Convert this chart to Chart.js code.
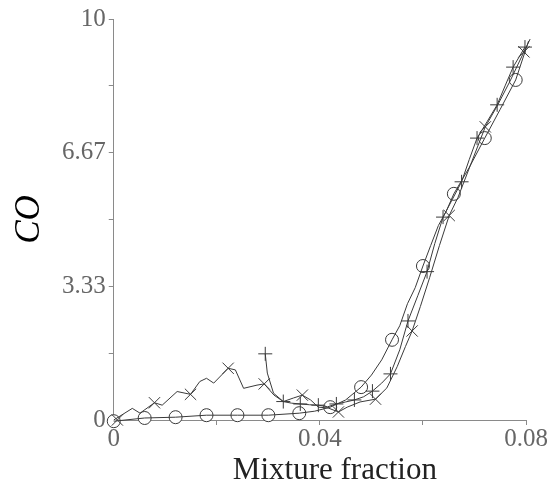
<!DOCTYPE html>
<html lang="en">
<head>
    <meta charset="UTF-8">
    <title>CO vs mixture fraction</title>
    <script src="https://cdn.jsdelivr.net/npm/chart.js"></script>
    <style>
        html, body { margin: 0; padding: 0; background: #fff; }
        #box { width: 551px; height: 496px; }
    </style>
</head>
<body>
    <div id="box"><canvas id="chart"></canvas></div>

    <script>
        // axis ticks (minor ticks get an empty label)
        const xTickValues = [0, 0.02, 0.04, 0.06, 0.08];
        const xTickLabels = ['0', '', '0.04', '', '0.08'];
        const yTickValues = [0, 10 / 6, 10 / 3, 5, 20 / 3, 50 / 6, 10];
        const yTickLabels = ['0', '', '3.33', '', '6.67', '', '10'];
        const xTitle = 'Mixture fraction';

        // circle series: line points and marker points
        const circX = [0, 0.006, 0.012, 0.018, 0.024, 0.030, 0.036, 0.039, 0.042, 0.045, 0.048, 0.050, 0.052, 0.054,
            0.0555, 0.057, 0.0585, 0.060, 0.0615, 0.063, 0.0645, 0.066, 0.069, 0.072, 0.075, 0.078, 0.0805];
        const circY = [-0.03, 0.05, 0.07, 0.12, 0.12, 0.12, 0.17, 0.22, 0.32, 0.50, 0.82, 1.12, 1.50, 2.0,
            2.35, 2.90, 3.30, 3.84, 4.35, 4.85, 5.20, 5.64, 6.30, 7.03, 7.75, 8.48, 9.45];
        const circMarkX = [0, 0.006, 0.012, 0.018, 0.024, 0.030, 0.036, 0.042, 0.048, 0.054, 0.060, 0.066, 0.072, 0.078];
        const circMarkY = [-0.03, 0.05, 0.07, 0.12, 0.12, 0.12, 0.17, 0.32, 0.82, 2.0, 3.84, 5.64, 7.03, 8.48];

        // x-mark series
        const crossX = [0, 0.0036, 0.0051, 0.0079, 0.0094, 0.0123, 0.0149, 0.0167, 0.0180, 0.0194, 0.0222, 0.0236,
            0.0252, 0.0278, 0.0292, 0.0311, 0.0329, 0.0349, 0.0366, 0.0382, 0.0397, 0.0416, 0.0436, 0.0453, 0.0478,
            0.0508, 0.0530, 0.0550, 0.0566, 0.0579, 0.0595, 0.0613, 0.0632, 0.0651, 0.0668, 0.0695, 0.0721, 0.0744,
            0.0769, 0.0796, 0.0808];
        const crossY = [0, 0.29, 0.17, 0.43, 0.37, 0.71, 0.64, 0.96, 1.04, 0.92, 1.29, 1.25,
            0.79, 0.87, 0.90, 0.62, 0.46, 0.55, 0.62, 0.50, 0.32, 0.30, 0.20, 0.32, 0.45,
            0.52, 0.80, 1.33, 1.83, 2.22, 2.83, 3.55, 4.35, 5.10, 5.55, 6.45, 7.31, 7.83,
            8.45, 9.18, 9.50];
        const crossMarkX = [0.0007, 0.0079, 0.0149, 0.0222, 0.0292, 0.0366, 0.0436, 0.0508, 0.0579, 0.0651, 0.0721, 0.0796];
        const crossMarkY = [0.0, 0.43, 0.64, 1.29, 0.90, 0.62, 0.20, 0.52, 2.22, 5.10, 7.31, 9.18];

        // plus series
        const plusX = [0.0294, 0.0298, 0.0310, 0.0329, 0.0345, 0.0362, 0.0380, 0.0397, 0.0415, 0.0432, 0.0450, 0.0467,
            0.0485, 0.0502, 0.0520, 0.0537, 0.0555, 0.0571, 0.0590, 0.0608, 0.0623, 0.0639, 0.0657, 0.0675, 0.0690,
            0.0705, 0.0725, 0.0744, 0.0760, 0.0775, 0.0798];
        const plusY = [1.65, 1.17, 0.67, 0.46, 0.42, 0.40, 0.38, 0.37, 0.33, 0.40, 0.45, 0.50,
            0.58, 0.72, 0.92, 1.15, 1.75, 2.47, 3.10, 3.70, 4.40, 5.06, 5.50, 5.94, 6.50,
            7.03, 7.45, 7.86, 8.35, 8.80, 9.30];
        const plusMarkX = [0.0294, 0.0329, 0.0362, 0.0397, 0.0432, 0.0467, 0.0502, 0.0537, 0.0571, 0.0608, 0.0639,
            0.0675, 0.0705, 0.0744, 0.0775, 0.0798];
        const plusMarkY = [1.65, 0.46, 0.40, 0.37, 0.40, 0.50, 0.72, 1.15, 2.47, 3.70, 5.06,
            5.94, 7.03, 7.86, 8.80, 9.30];

        const pts = (xs, ys) => xs.map((x, i) => ({ x: x, y: ys[i] }));
        const lineColor = '#3a3a3a';
        const axisColor = '#8a8a8a';
        const serif = "'Liberation Serif', 'DejaVu Serif', serif";

        function lineSet(xs, ys) {
            return {
                data: pts(xs, ys), showLine: true, borderColor: lineColor, borderWidth: 1,
                pointRadius: 0, fill: false, tension: 0, clip: false
            };
        }
        function markSet(xs, ys, style, r, bg) {
            return {
                data: pts(xs, ys), showLine: false, pointStyle: style, pointRadius: r,
                borderColor: lineColor, pointBorderColor: lineColor, pointBorderWidth: 1,
                pointBackgroundColor: bg, clip: false
            };
        }

        // x title sits a little right of the axis centre in the original
        const xTitlePlugin = {
            id: 'xTitle',
            afterDraw(chart) {
                const a = chart.chartArea;
                const ctx = chart.ctx;
                ctx.save();
                ctx.font = '31px ' + serif;
                ctx.fillStyle = '#222';
                ctx.textAlign = 'center';
                ctx.textBaseline = 'alphabetic';
                ctx.fillText(xTitle, (a.left + a.right) / 2 + 15, 479);
                ctx.restore();
            }
        };

        new Chart(document.getElementById('chart'), {
            type: 'scatter',
            data: {
                datasets: [
                    lineSet(crossX, crossY),
                    markSet(crossMarkX, crossMarkY, 'crossRot', 8, 'rgba(0,0,0,0)'),
                    lineSet(plusX, plusY),
                    markSet(plusMarkX, plusMarkY, 'cross', 7, 'rgba(0,0,0,0)'),
                    lineSet(circX, circY),
                    markSet(circMarkX, circMarkY, 'circle', 6.5, '#fff')
                ]
            },
            plugins: [xTitlePlugin],
            options: {
                responsive: true,
                maintainAspectRatio: false,
                animation: false,
                layout: { padding: { left: 12, right: 25, top: 19, bottom: 42 } },
                plugins: { legend: { display: false }, tooltip: { enabled: false } },
                scales: {
                    x: {
                        type: 'linear', min: 0, max: 0.08,
                        afterBuildTicks: s => { s.ticks = xTickValues.map(v => ({ value: v })); },
                        ticks: {
                            callback: (v, i) => xTickLabels[i], maxRotation: 0, autoSkip: false,
                            color: '#666', padding: 2, font: { family: serif, size: 25, lineHeight: 1.0 }
                        },
                        grid: { drawOnChartArea: false, drawTicks: true, tickLength: 5, color: axisColor },
                        border: { display: true, color: axisColor, width: 1 }
                    },
                    y: {
                        type: 'linear', min: 0, max: 10,
                        afterBuildTicks: s => { s.ticks = yTickValues.map(v => ({ value: v })); },
                        ticks: {
                            callback: (v, i) => yTickLabels[i], autoSkip: false,
                            color: '#666', padding: 3, font: { family: serif, size: 25, lineHeight: 1.0 }
                        },
                        grid: { drawOnChartArea: false, drawTicks: true, tickLength: 5, color: axisColor },
                        border: { display: true, color: axisColor, width: 1 },
                        title: {
                            display: true, text: 'CO', color: '#000',
                            font: { family: serif, size: 35, style: 'italic', lineHeight: 1.0 },
                            padding: { top: 0, bottom: 12 }
                        }
                    }
                }
            }
        });
    </script>
</body>
</html>
